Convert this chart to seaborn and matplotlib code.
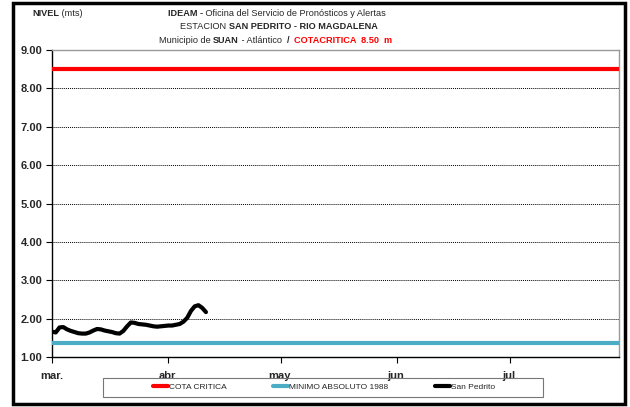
import numpy as np
import pandas as pd
import matplotlib
matplotlib.use('Agg')
import matplotlib.pyplot as plt
from matplotlib.patches import Rectangle
from matplotlib.lines import Line2D
import seaborn as sns

# - data - #
fechas = pd.date_range('2010-03-01', periods=42, freq='D')
nivel = [1.66, 1.64, 1.77, 1.78, 1.72, 1.68, 1.65, 1.62, 1.61, 1.61,
         1.64, 1.69, 1.73, 1.72, 1.69, 1.67, 1.65, 1.62, 1.61, 1.68,
         1.80, 1.90, 1.89, 1.86, 1.85, 1.84, 1.82, 1.80, 1.79, 1.80,
         1.81, 1.82, 1.82, 1.84, 1.86, 1.92, 2.02, 2.20, 2.32, 2.35,
         2.28, 2.17]
cota_critica = 8.50
minimo_1988 = 1.36
meses = ['mar.', 'abr.', 'may.', 'jun.', 'jul.']
yticks = [1, 2, 3, 4, 5, 6, 7, 8, 9]

df = pd.DataFrame({'fecha': fechas, 'nivel': nivel})

sns.set_style('white')
plt.rcParams['font.family'] = ['Liberation Sans', 'DejaVu Sans']

fig = plt.figure(figsize=(6.3, 4.07), dpi=100)
ax = fig.add_axes([52/630, 1-357/407, (619-52)/630, (357-50)/407])

x0, x1 = pd.Timestamp('2010-03-01'), pd.Timestamp('2010-07-30')
ax.axhline(cota_critica, color='#ff0000', lw=3, zorder=3)
ax.axhline(minimo_1988, color='#4bacc6', lw=3, zorder=3)
sns.lineplot(data=df, x='fecha', y='nivel', color='black', lw=3, ax=ax, zorder=4)

ax.set_xlim(x0, x1)
ax.set_ylim(1, 9)
ax.set_yticks(yticks)
ax.set_yticklabels(['%.2f' % v for v in yticks], fontsize=8, fontweight='bold')
for v in yticks[1:]:
    ax.axhline(v, color='black', lw=0.7, ls=(0, (1, 1)), zorder=1)

ax.set_xticks([pd.Timestamp('2010-%02d-01' % m) for m in range(3, 8)])
ax.set_xticklabels(meses, fontsize=8, fontweight='bold')
ax.tick_params(axis='both', direction='out', length=4, width=0.8, color='black',
               bottom=True, left=True)
ax.tick_params(axis='x', pad=6)
ax.tick_params(axis='y', pad=3)
ax.set_xlabel('')
ax.set_ylabel('')

for s in ['left', 'bottom']:
    ax.spines[s].set_color('black')
    ax.spines[s].set_linewidth(1)
for s in ['top', 'right']:
    ax.spines[s].set_color('#999999')
    ax.spines[s].set_linewidth(1)

# titles: pieces chained one after the other
def linea(pieces, x, y, fs=6.6):
    prev = None
    for txt, kw in pieces:
        if prev is None:
            prev = fig.text(x/630, 1-y/407, txt, fontsize=fs, va='bottom', **kw)
        else:
            prev = ax.annotate(txt, xy=(1, 0), xycoords=prev, fontsize=fs,
                               va='bottom', annotation_clip=False, **kw)

B = dict(fontweight='bold')
R = dict()
linea([('NIVEL', B), (' (mts)', R)], 32, 18)
linea([('IDEAM -', B), (' Oficina del Servicio de Pronósticos y Alertas', R)], 168, 18)
linea([('ESTACION ', R), ('SAN PEDRITO - RIO MAGDALENA', B)], 180, 31)
linea([('Municipio de ', R), ('SUAN', B), (' - Atlántico  ', R), ('/  ', B),
       ('COTACRITICA  8.50  m', dict(fontweight='bold', color='#ff0000'))], 159, 45)

handles = [Line2D([], [], color='#ff0000', lw=3),
           Line2D([], [], color='#4bacc6', lw=3),
           Line2D([], [], color='black', lw=3)]
leg = fig.legend(handles, ['COTA CRITICA', 'MINIMO ABSOLUTO 1988', 'San Pedrito'],
                 loc='center', bbox_to_anchor=(324/630, 1-387.5/407), ncol=3,
                 fontsize=6, frameon=False, handlelength=1.8, handletextpad=0.1,
                 columnspacing=5.6, borderpad=0, borderaxespad=0)
fig.patches.append(Rectangle((103/630, 1-397/407), 440/630, 19/407,
                             transform=fig.transFigure, fill=False,
                             edgecolor='#777777', lw=0.8))

fig.patches.append(Rectangle((13/630, 3/407), (625-13)/630, (404-3)/407,
                             transform=fig.transFigure, fill=False,
                             edgecolor='black', lw=2.5))

fig.savefig('out.png', dpi=100, facecolor='white')
